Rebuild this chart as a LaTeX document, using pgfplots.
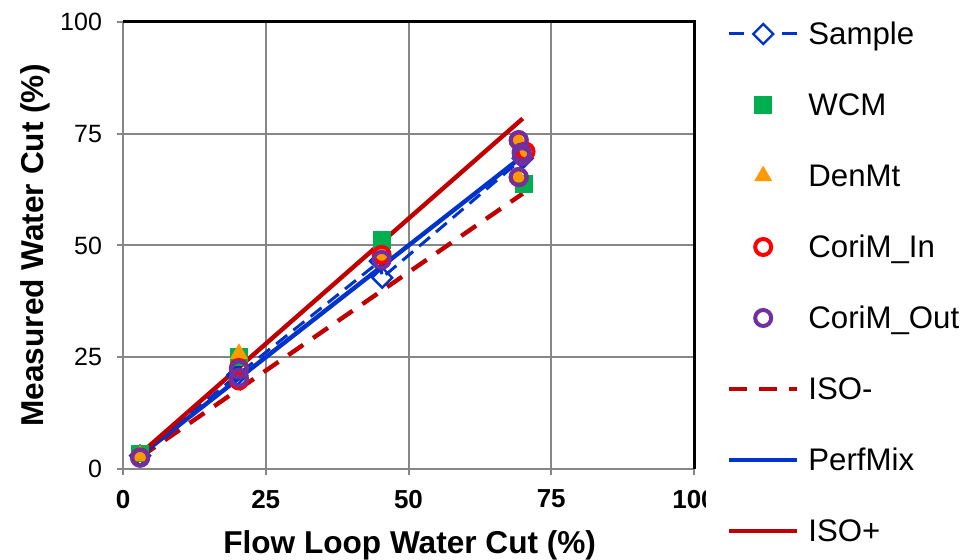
\documentclass[border=0pt]{standalone}
\usepackage{fontspec}
\setmainfont{Liberation Sans}
\usepackage{pgfplots}
\pgfplotsset{compat=1.18}
\definecolor{sampleblue}{RGB}{0,51,204}
\definecolor{perfblue}{RGB}{0,51,204}
\definecolor{isored}{RGB}{192,0,0}
\definecolor{wcmgreen}{RGB}{0,176,80}
\definecolor{denorange}{RGB}{255,153,0}
\definecolor{coriin}{RGB}{255,0,0}
\definecolor{coriout}{RGB}{112,48,160}
\definecolor{gridgray}{RGB}{134,134,134}
\begin{document}
\begin{tikzpicture}
\useasboundingbox (-61.5pt,-45.5pt) rectangle (428.5pt,234.5pt);
\begin{axis}[name=ax, at={(0,0)}, anchor=south west,
  scale only axis, width=285.5pt, height=223.5pt,
  xmin=0, xmax=100, ymin=0, ymax=100,
  xtick={0,25,50,75,100}, ytick={0,25,50,75,100},
  grid=major, grid style={draw=gridgray, line width=1pt},
  axis line style={draw=gridgray, line width=1pt},
  tick align=outside, xtick pos=bottom, ytick pos=left,
  major tick length=3pt, tick style={draw=gridgray, line width=1pt},
  /pgf/number format/assume math mode=true,
  yticklabel style={font=\fontsize{12.5}{15}\selectfont, xshift=-4pt},
  xticklabel style={font=\fontsize{13}{15}\selectfont\bfseries, yshift=-4pt},
  xlabel={Flow Loop Water Cut (\%)},
  ylabel={Measured Water Cut (\%)},
  label style={font=\fontsize{15.8}{18}\selectfont\bfseries},
  xlabel style={at={(axis description cs:0.502,-0.17)}, anchor=center},
  ylabel style={at={(axis description cs:-0.154,0.5)}, anchor=center},
  legend style={at={(1,1)}, anchor=north west, xshift=6pt, draw=none, fill=white,
    inner xsep=10.5pt, inner ysep=0pt, outer sep=0pt, row sep=23.5pt, column sep=4.5pt,
    font=\fontsize{15.6}{18}\selectfont,
    nodes={inner sep=0pt, text height=11.5pt, text depth=0.5pt}},
  legend cell align=left,
  legend image code/.code={\draw[mark repeat=2,mark phase=2,#1] plot coordinates {(0pt,0pt) (17pt,0pt) (34pt,0pt)};},
]
% Sample
\addplot[sampleblue, line width=1.5pt, dash pattern=on 7pt off 4pt, mark=square, mark size=3.5pt,
  mark options={solid, line width=1.2pt, rotate=45},
  legend image code/.code={
    \draw[sampleblue, line width=1.5pt, dash pattern=on 7.5pt off 19pt] (0pt,0pt) -- (34pt,0pt);
    \draw[sampleblue, solid, line width=1.2pt, line join=miter] (17pt,-5pt) -- (22pt,0pt) -- (17pt,5pt) -- (12pt,0pt) -- cycle;
  }] coordinates {
  (3,3) (20,21) (45,46.5) (45.4,42.8) (70,69.5)};
\addlegendentry{Sample}
% reference lines (drawn under the markers)
\addplot[isored, line width=2.2pt, dash pattern=on 9pt off 6pt, forget plot] coordinates {(3,2.64) (70,61.6)};
\addplot[perfblue, line width=2.2pt, forget plot] coordinates {(3,3) (70,70)};
\addplot[isored, line width=2.2pt, forget plot] coordinates {(3,3.36) (70,78.4)};
% WCM
\addplot[only marks, mark=square*, mark size=4.2pt, color=wcmgreen] coordinates {
  (3,3.5) (20.3,25) (45.4,51.3) (70.2,63.8)};
\addlegendentry{WCM}
% DenMt
\addplot[only marks, mark=triangle*, mark size=4.8pt, color=denorange] coordinates {
  (3,3) (20.3,25.8) (45.3,47.5) (69.2,73.6) (69.8,70.5) (69.2,65.3)};
\addlegendentry{DenMt}
% CoriM_In
\addplot[only marks, mark=o, mark size=4pt, color=coriin, mark options={line width=2pt}] coordinates {
  (3,2.6) (20.3,22.6) (20.3,19.8) (45.3,47.9) (69.3,73.5) (70.5,71) (69.3,65.3)};
\addlegendentry{CoriM\_In}
% CoriM_Out
\addplot[only marks, mark=o, mark size=4pt, color=coriout, mark options={line width=2pt}] coordinates {
  (3,2.5) (20.3,22.3) (20.3,20.4) (45.3,46.8) (69.3,73.6) (69.8,70.8) (69.9,70) (69.3,65.3)};
\addlegendentry{CoriM\_Out}
\addlegendimage{isored, line width=2.2pt, dash pattern=on 9pt off 6pt}
\addlegendentry{ISO-}
\addlegendimage{perfblue, line width=2.2pt}
\addlegendentry{PerfMix}
\addlegendimage{isored, line width=2.2pt}
\addlegendentry{ISO+}
\end{axis}
\draw[black, line width=1.5pt, line join=miter] (ax.north west) -- (ax.north east) -- (ax.south east);
\end{tikzpicture}
\end{document}
